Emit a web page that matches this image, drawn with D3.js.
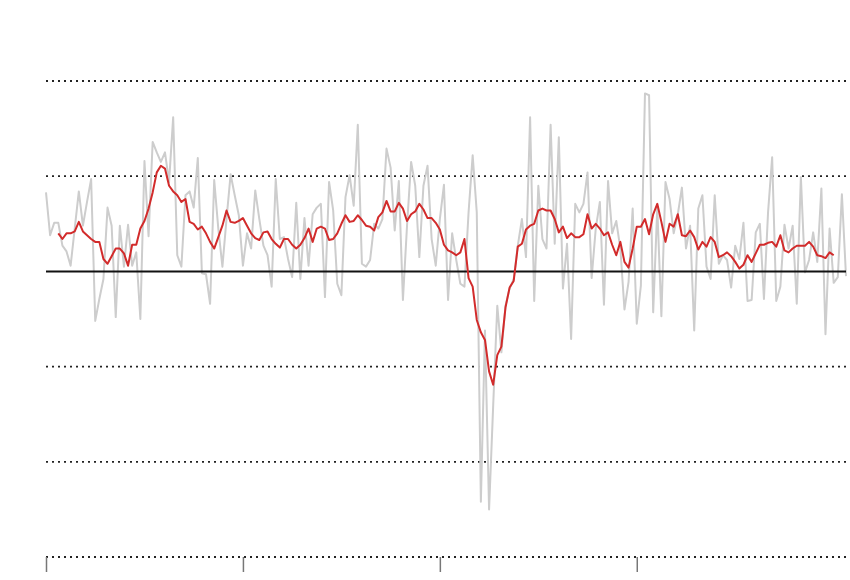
<!DOCTYPE html>
<html>
<head>
<meta charset="utf-8">
<script src="https://cdn.jsdelivr.net/npm/d3@7"></script>
<style>
  body { margin: 0; background: #fff; }
</style>
</head>
<body>
<div id="wrapper"></div>
<script>
// monthly values (gray), one per month
const monthly = [
  0.83, 0.38, 0.51, 0.51, 0.27, 0.21, 0.06, 0.45, 0.84, 0.48,
  0.73, 0.97, -0.52, -0.29, -0.08, 0.67, 0.48, -0.48, 0.48, 0.05,
  0.49, 0.06, 0.20, -0.50, 1.16, 0.37, 1.36, 1.25, 1.15, 1.25,
  0.94, 1.62, 0.17, 0.05, 0.80, 0.84, 0.67, 1.19, -0.02, -0.03,
  -0.34, 0.96, 0.45, 0.05, 0.55, 1.02, 0.80, 0.59, 0.06, 0.40,
  0.24, 0.85, 0.55, 0.27, 0.17, -0.16, 0.97, 0.34, 0.36, 0.13,
  -0.06, 0.72, -0.08, 0.56, 0.06, 0.60, 0.67, 0.71, -0.27, 0.94,
  0.64, -0.13, -0.25, 0.78, 1.01, 0.69, 1.54, 0.08, 0.05, 0.12,
  0.50, 0.45, 0.55, 1.29, 1.09, 0.43, 0.95, -0.30, 0.48, 1.15,
  0.90, 0.15, 0.90, 1.11, 0.34, 0.06, 0.55, 0.91, -0.30, 0.40,
  0.12, -0.13, -0.16, 0.62, 1.22, 0.62, -2.42, -0.62, -2.50, -1.41,
  -0.36, -0.85, -0.36, -0.18, -0.08, 0.27, 0.55, 0.15, 1.62, -0.31,
  0.90, 0.34, 0.24, 1.54, 0.29, 1.41, -0.18, 0.29, -0.71, 0.71,
  0.62, 0.71, 1.04, -0.07, 0.45, 0.73, -0.35, 0.95, 0.40, 0.53,
  0.24, -0.40, -0.11, 0.66, -0.55, -0.15, 1.87, 1.85, -0.43, 0.67,
  -0.47, 0.94, 0.76, 0.40, 0.60, 0.88, 0.24, 0.48, -0.62, 0.66,
  0.80, 0.05, -0.08, 0.80, 0.08, 0.17, 0.12, -0.17, 0.27, 0.13,
  0.51, -0.31, -0.30, 0.41, 0.50, -0.29, 0.62, 1.20, -0.31, -0.16,
  0.49, 0.24, 0.48, -0.34, 0.99, -0.01, 0.12, 0.41, 0.10, 0.87,
  -0.66, 0.45, -0.12, -0.06, 0.81, -0.05
]

// smoothed line (red), starts at month index 3
const avgStart = 3
const avg = [
  0.40, 0.34, 0.40, 0.40, 0.42, 0.52, 0.42, 0.38, 0.34, 0.31,
  0.31, 0.13, 0.08, 0.16, 0.24, 0.24, 0.19, 0.06, 0.28, 0.28,
  0.45, 0.53, 0.66, 0.83, 1.04, 1.11, 1.08, 0.90, 0.84, 0.80,
  0.73, 0.76, 0.52, 0.50, 0.44, 0.47, 0.40, 0.31, 0.24, 0.36,
  0.48, 0.64, 0.52, 0.51, 0.53, 0.56, 0.48, 0.40, 0.35, 0.33,
  0.41, 0.42, 0.34, 0.29, 0.25, 0.34, 0.34, 0.28, 0.24, 0.28,
  0.35, 0.45, 0.31, 0.45, 0.47, 0.45, 0.33, 0.34, 0.40, 0.50,
  0.59, 0.52, 0.53, 0.59, 0.54, 0.48, 0.47, 0.43, 0.57, 0.62,
  0.74, 0.63, 0.63, 0.72, 0.66, 0.53, 0.60, 0.63, 0.71, 0.65,
  0.56, 0.56, 0.51, 0.44, 0.28, 0.22, 0.20, 0.17, 0.20, 0.34,
  -0.07, -0.16, -0.51, -0.64, -0.72, -1.05, -1.19, -0.88, -0.79, -0.38,
  -0.17, -0.10, 0.26, 0.29, 0.44, 0.48, 0.50, 0.64, 0.66, 0.64,
  0.64, 0.55, 0.41, 0.47, 0.35, 0.40, 0.36, 0.36, 0.39, 0.60,
  0.45, 0.50, 0.45, 0.38, 0.41, 0.28, 0.17, 0.31, 0.10, 0.04,
  0.24, 0.47, 0.47, 0.55, 0.39, 0.60, 0.71, 0.52, 0.31, 0.50,
  0.47, 0.60, 0.38, 0.37, 0.43, 0.36, 0.23, 0.31, 0.26, 0.36,
  0.31, 0.15, 0.17, 0.20, 0.16, 0.10, 0.03, 0.07, 0.17, 0.10,
  0.19, 0.28, 0.28, 0.30, 0.31, 0.26, 0.38, 0.22, 0.20, 0.24,
  0.27, 0.27, 0.27, 0.31, 0.26, 0.17, 0.16, 0.14, 0.20, 0.17
]

const gridValues = [2, 1, -1, -2, -3]
const tickMonths = [0, 48, 96, 144]

async function drawChart() {

  // 1. Access data
  const grayData = monthly.map((v, i) => ({ i: i, v: v }))
  const redData = avg.map((v, i) => ({ i: i + avgStart, v: v }))
  const xAccessor = d => d.i
  const yAccessor = d => d.v

  // 2. Create chart dimensions
  let dimensions = {
    width: 850,
    height: 580,
    margin: {
      top: 81,
      right: 4,
      bottom: 23,
      left: 46,
    },
  }
  dimensions.boundedWidth = dimensions.width
    - dimensions.margin.left
    - dimensions.margin.right
  dimensions.boundedHeight = dimensions.height
    - dimensions.margin.top
    - dimensions.margin.bottom

  // 3. Draw canvas
  const wrapper = d3.select("#wrapper")
    .append("svg")
      .attr("width", dimensions.width)
      .attr("height", dimensions.height)
      .style("display", "block")

  const bounds = wrapper.append("g")
      .attr("transform", `translate(${dimensions.margin.left}, ${dimensions.margin.top})`)

  // 4. Create scales
  const xScale = d3.scaleLinear()
    .domain([0, monthly.length - 1])
    .range([0, dimensions.boundedWidth])

  const yScale = d3.scaleLinear()
    .domain([-3, 2])
    .range([dimensions.boundedHeight, 0])

  // 6. peripherals first (grid sits under the lines)
  bounds.append("g")
    .selectAll("line")
    .data(gridValues)
    .join("line")
      .attr("x1", 0)
      .attr("x2", dimensions.boundedWidth)
      .attr("y1", d => yScale(d))
      .attr("y2", d => yScale(d))
      .attr("stroke", "#222")
      .attr("stroke-width", 1.8)
      .attr("stroke-dasharray", "2,4")

  const xAxisGenerator = d3.axisBottom()
    .scale(xScale)
    .tickValues(tickMonths)
    .tickSize(15)
    .tickFormat("")

  const xAxis = bounds.append("g")
    .call(xAxisGenerator)
      .attr("transform", `translate(0, ${dimensions.boundedHeight})`)
  xAxis.select(".domain").remove()
  xAxis.selectAll("line")
    .attr("stroke", "#777")
    .attr("stroke-width", 1.5)

  // 5. Draw data
  const lineGenerator = d3.line()
    .x(d => xScale(xAccessor(d)))
    .y(d => yScale(yAccessor(d)))

  bounds.append("path")
      .attr("d", lineGenerator(grayData))
      .attr("fill", "none")
      .attr("stroke", "#cdcdcd")
      .attr("stroke-width", 2)
      .attr("stroke-linejoin", "round")

  bounds.append("line")
      .attr("x1", 0)
      .attr("x2", dimensions.boundedWidth)
      .attr("y1", yScale(0))
      .attr("y2", yScale(0))
      .attr("stroke", "#111")
      .attr("stroke-width", 2)

  bounds.append("path")
      .attr("d", lineGenerator(redData))
      .attr("fill", "none")
      .attr("stroke", "#d22b2b")
      .attr("stroke-width", 2)
      .attr("stroke-linejoin", "round")
}
drawChart()
</script>
</body>
</html>
